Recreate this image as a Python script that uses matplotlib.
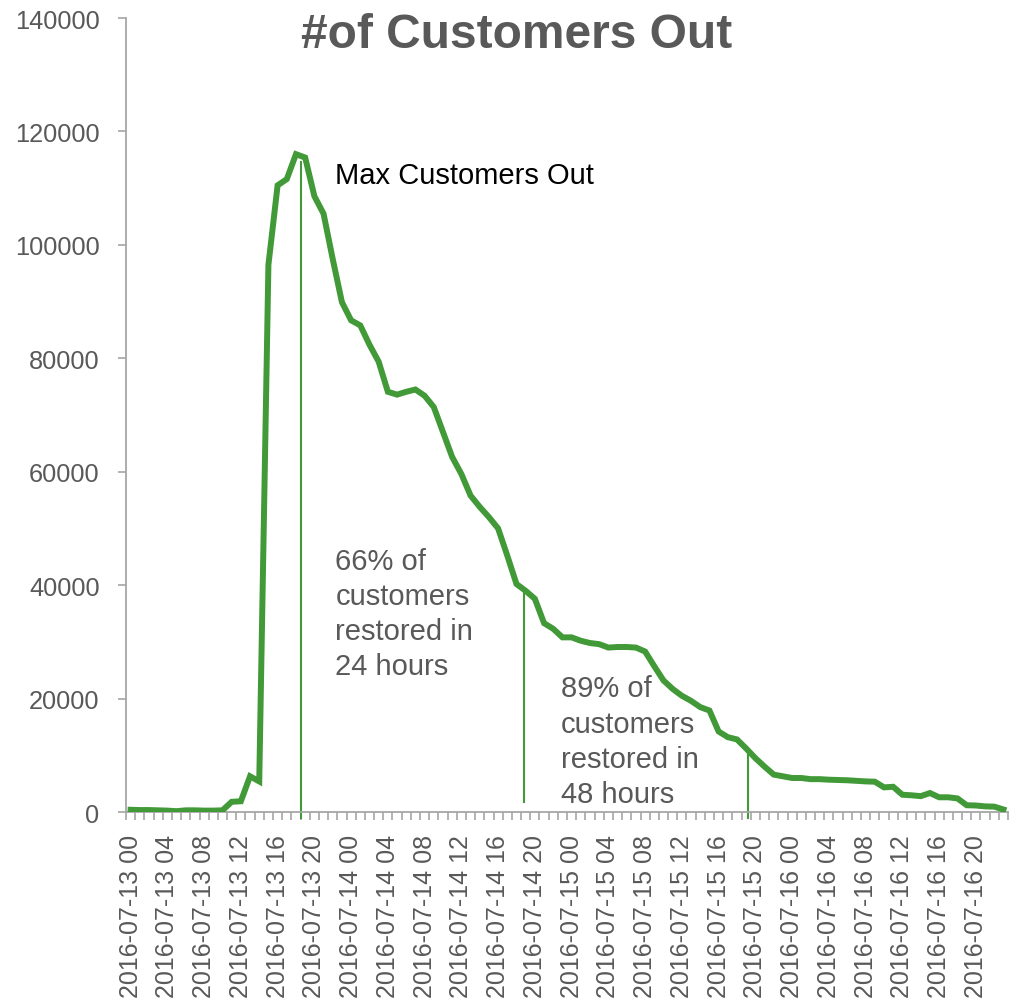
import matplotlib
matplotlib.use("Agg")
import matplotlib.pyplot as plt
import numpy as np

plt.rcParams['font.family'] = ['Liberation Sans', 'DejaVu Sans']

# hourly outage counts, 2016-07-13 00 .. 2016-07-16 23
days = ['13', '14', '15', '16']
hours = ['%02d' % h for h in range(24)]
labels = ['2016-07-%s %s' % (d, h) for d in days for h in hours]

customers_out = [
    400, 350, 350, 300, 250, 150, 300, 300, 250, 250, 300, 1800,
    1900, 6300, 5400, 96500, 110500, 111600, 116000, 115400, 108600, 105500, 97500, 89900,
    86700, 85800, 82400, 79400, 74100, 73600, 74100, 74500, 73400, 71400, 67000, 62600,
    59600, 55800, 53800, 52000, 50000, 45200, 40200, 39000, 37600, 33300, 32300, 30800,
    30800, 30200, 29800, 29600, 29000, 29100, 29100, 29000, 28300, 25700, 23200, 21700,
    20500, 19600, 18500, 17900, 14200, 13200, 12800, 11200, 9500, 8000, 6600, 6300,
    6000, 6000, 5800, 5800, 5700, 5650, 5600, 5500, 5400, 5350, 4350, 4450,
    3050, 2950, 2800, 3350, 2600, 2600, 2400, 1200, 1150, 1000, 950, 450,
]

# marker lines drawn on the chart: (x position in hours, bottom, top)
markers = [(18.5, -1100, 114600), (42.85, 1800, 38600), (67.25, -1100, 10200)]

green = '#419A37'
grey_txt = '#595959'
grey_ax = '#A6A6A6'

fig = plt.figure(figsize=(10.17, 10.03), dpi=100)
ax = fig.add_axes([0.1239, 0.1894, 0.8673, 0.7916])

x = np.arange(len(customers_out))
ax.plot(x, customers_out, color=green, lw=4.3, solid_joinstyle='miter', zorder=3)

for xm, y0, y1 in markers:
    ax.plot([xm, xm], [y0, y1], color=green, lw=1.5, clip_on=False, zorder=2)

ax.set_xlim(-0.5, len(customers_out) - 0.5)
ax.set_ylim(0, 140000)

ax.set_yticks(np.arange(0, 140001, 20000))
ax.set_yticklabels([str(v) for v in range(0, 140001, 20000)])

ax.set_xticks(x[::4])
ax.set_xticklabels(labels[::4], rotation=90)
ax.set_xticks(np.arange(-0.5, len(customers_out), 1), minor=True)

ax.tick_params(axis='x', which='major', length=0, pad=16, labelsize=18, labelcolor=grey_txt)
ax.tick_params(axis='x', which='minor', length=6, width=1.2, color=grey_ax, direction='out')
ax.tick_params(axis='y', length=6, width=1.2, color=grey_ax, pad=13, labelsize=18.3, labelcolor=grey_txt)

for s in ['top', 'right']:
    ax.spines[s].set_visible(False)
for s in ['left', 'bottom']:
    ax.spines[s].set_color(grey_ax)
    ax.spines[s].set_linewidth(1.3)

fig.text(0.508, 1 - 36 / 1003, '#of Customers Out', ha='center', va='center',
         fontsize=34.5, fontweight='bold', color=grey_txt)

ax.text(22.3, 112400, 'Max Customers Out', fontsize=21, color='black', va='center', ha='left')
ax.text(22.3, 35000, '66% of\ncustomers\nrestored in\n24 hours', fontsize=21,
        color=grey_txt, va='center', ha='left', linespacing=1.33)
ax.text(46.8, 12500, '89% of\ncustomers\nrestored in\n48 hours', fontsize=21,
        color=grey_txt, va='center', ha='left', linespacing=1.33)

fig.savefig('out.png', dpi=100)
